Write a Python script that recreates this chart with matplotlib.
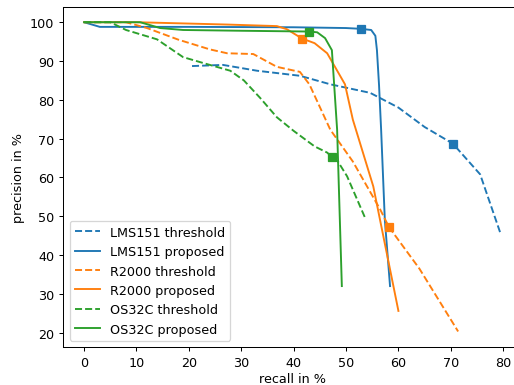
import matplotlib
matplotlib.use('Agg')
import matplotlib.pyplot as plt

# recall / precision curves (in %)
lms_thr_rec = [20.6, 26.5, 33.0, 41.2, 47.0, 54.6, 60.0, 65.0, 70.4, 75.6, 79.4]
lms_thr_prec = [88.7, 89.0, 87.5, 86.2, 84.0, 81.8, 78.0, 73.0, 68.7, 60.8, 45.9]
lms_prop_rec = [0.0, 3.0, 20.0, 40.0, 50.0, 52.8, 54.8, 55.6, 55.9, 56.3, 56.7, 57.4, 58.4]
lms_prop_prec = [100.0, 98.8, 98.8, 98.7, 98.5, 98.3, 98.0, 96.5, 92.8, 83.8, 72.3, 49.2, 32.0]

r2000_thr_rec = [0.0, 8.0, 12.0, 18.0, 24.0, 27.3, 32.3, 36.8, 41.2, 43.0, 47.0, 51.3, 56.5, 58.2, 64.0, 71.4]
r2000_thr_prec = [100.0, 100.0, 98.5, 95.5, 93.0, 92.0, 91.8, 88.5, 87.2, 84.0, 72.3, 64.1, 51.8, 47.2, 36.5, 20.3]
r2000_prop_rec = [0.0, 10.0, 27.3, 36.8, 38.7, 41.6, 44.0, 46.4, 49.8, 51.3, 55.2, 60.0]
r2000_prop_prec = [100.0, 100.0, 99.4, 99.0, 98.2, 95.8, 94.6, 92.0, 84.0, 74.9, 57.7, 25.6]

os_thr_rec = [0.0, 5.0, 8.0, 13.9, 18.9, 22.7, 27.9, 30.5, 33.6, 36.8, 40.0, 44.0, 46.4, 47.3, 48.5, 50.2, 53.6]
os_thr_prec = [100.0, 100.0, 98.0, 95.6, 91.0, 89.5, 87.5, 85.0, 80.5, 75.5, 72.0, 68.0, 66.4, 65.3, 64.0, 60.3, 49.7]
os_prop_rec = [0.0, 10.7, 14.5, 18.9, 30.0, 43.0, 44.5, 46.0, 47.3, 48.3, 49.2]
os_prop_prec = [100.0, 100.0, 98.5, 98.0, 97.8, 97.6, 97.4, 95.9, 92.8, 72.3, 32.0]

# operating points marked with squares (recall, precision)
lms_thr_pt = (70.4, 68.7)
lms_prop_pt = (52.8, 98.3)
r2000_thr_pt = (58.2, 47.2)
r2000_prop_pt = (41.6, 95.8)
os_thr_pt = (47.3, 65.3)
os_prop_pt = (43.0, 97.6)

blue, orange, green = '#1f77b4', '#ff7f0e', '#2ca02c'

DPI = 91.4
fig = plt.figure(figsize=(514 / DPI, 386 / DPI), dpi=DPI)
# the reference is cropped on the right, so the axes run past the figure edge
ax = fig.add_axes([63.3 / 514, 38.0 / 386, 457.7 / 514, 340.3 / 386])

ax.plot(lms_thr_rec, lms_thr_prec, '--', color=blue, label='LMS151 threshold')
ax.plot(lms_prop_rec, lms_prop_prec, '-', color=blue, label='LMS151 proposed')
ax.plot(r2000_thr_rec, r2000_thr_prec, '--', color=orange, label='R2000 threshold')
ax.plot(r2000_prop_rec, r2000_prop_prec, '-', color=orange, label='R2000 proposed')
ax.plot(os_thr_rec, os_thr_prec, '--', color=green, label='OS32C threshold')
ax.plot(os_prop_rec, os_prop_prec, '-', color=green, label='OS32C proposed')

for pt, c in [(lms_thr_pt, blue), (lms_prop_pt, blue), (r2000_thr_pt, orange),
              (r2000_prop_pt, orange), (os_thr_pt, green), (os_prop_pt, green)]:
    ax.plot([pt[0]], [pt[1]], 's', color=c, markersize=6)

ax.set_xlim(-3.97, 83.4)
ax.set_ylim(16.3, 104.0)
ax.set_xticks(range(0, 81, 10))
ax.set_yticks(range(20, 101, 10))
ax.set_xlabel('recall in %', labelpad=2.5)
ax.set_ylabel('precision in %')
ax.legend(loc='lower left')

fig.savefig('out.png', dpi=DPI)
